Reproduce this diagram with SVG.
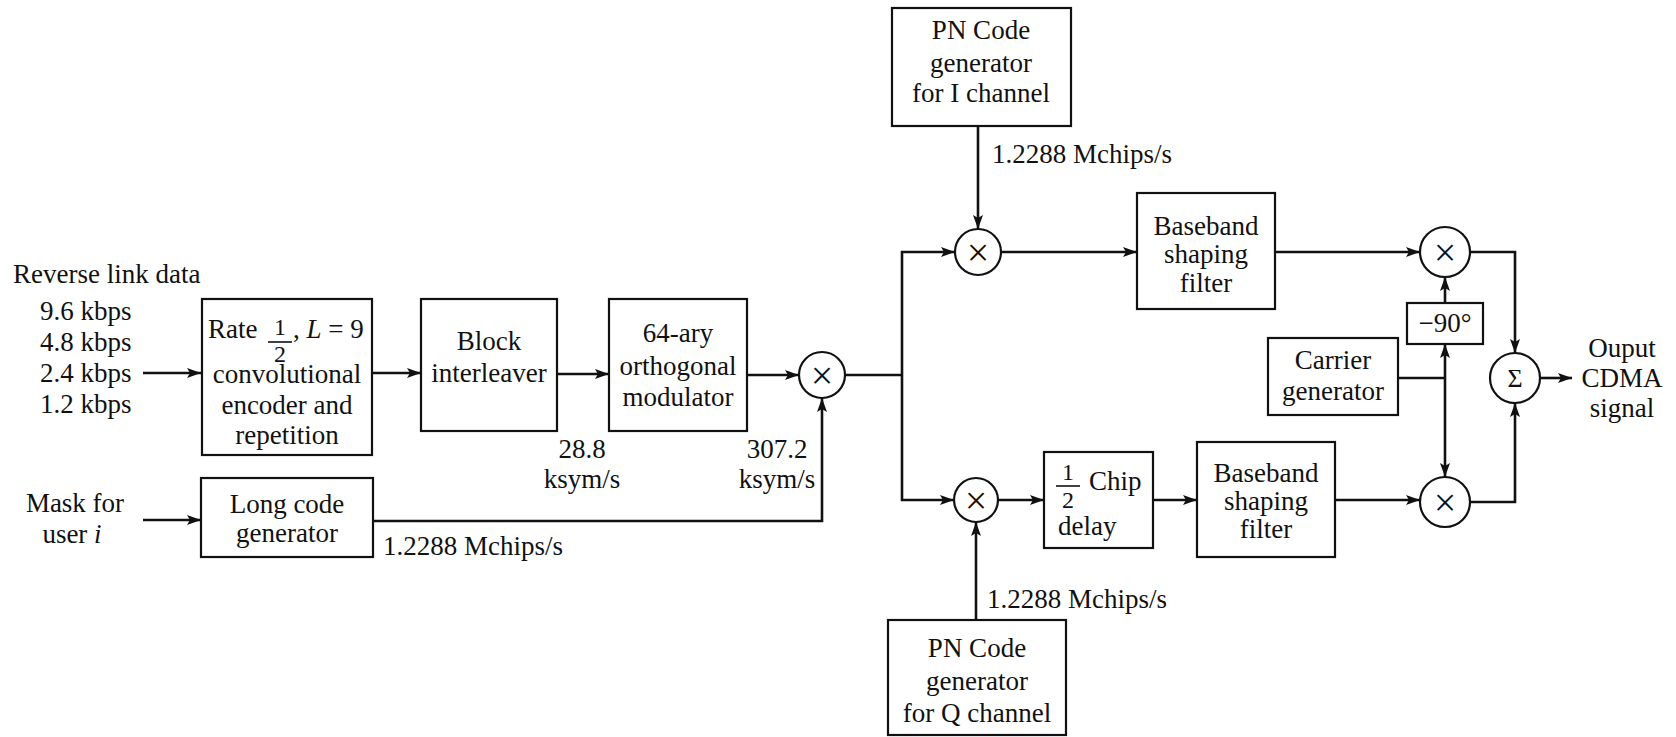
<svg xmlns="http://www.w3.org/2000/svg" width="1676" height="737" viewBox="0 0 1676 737">
<style>
text{font-family:"Liberation Serif","Times New Roman",serif;font-size:27px;fill:#111}
.c{text-anchor:middle}
.f{font-size:24px}
.sym{font-size:40px;dominant-baseline:central;text-anchor:middle}
.box{fill:none;stroke:#111;stroke-width:2.2}
.op{fill:#fff;stroke:#111;stroke-width:2.2}
.ln{fill:none;stroke:#111;stroke-width:2.6}
.ar{marker-end:url(#ah)}
</style>
<defs>
<marker id="ah" markerUnits="userSpaceOnUse" markerWidth="16" markerHeight="12" refX="14" refY="6" orient="auto">
<path d="M0,1 L14,6 L0,11 L3,6 Z" fill="#111"/>
</marker>
</defs>
<rect width="1676" height="737" fill="#fff"/>

<g id="connectors">
<line class="ln ar" x1="143" y1="373" x2="201" y2="373"/>
<line class="ln ar" x1="143" y1="520" x2="201" y2="520"/>
<line class="ln ar" x1="373" y1="373" x2="421" y2="373"/>
<line class="ln ar" x1="557" y1="374" x2="609" y2="374"/>
<line class="ln ar" x1="747" y1="375" x2="799" y2="375"/>
<polyline class="ln ar" points="373,521 822,521 822,398"/>
<polyline class="ln" points="845,375 902,375"/>
<polyline class="ln ar" points="902,375 902,252 955,252"/>
<polyline class="ln ar" points="902,375 902,500 954,500"/>
<line class="ln ar" x1="978" y1="126" x2="978" y2="229"/>
<line class="ln ar" x1="1001" y1="252" x2="1137" y2="252"/>
<line class="ln ar" x1="976" y1="620" x2="976" y2="522"/>
<line class="ln ar" x1="998" y1="500" x2="1044" y2="500"/>
<line class="ln ar" x1="1153" y1="500" x2="1197" y2="500"/>
<line class="ln ar" x1="1275" y1="252" x2="1420" y2="252"/>
<line class="ln ar" x1="1335" y1="500" x2="1420" y2="500"/>
<line class="ln ar" x1="1445" y1="303" x2="1445" y2="277"/>
<line class="ln" x1="1398" y1="378" x2="1445" y2="378"/>
<line class="ln ar" x1="1445" y1="378" x2="1445" y2="344"/>
<line class="ln ar" x1="1445" y1="378" x2="1445" y2="477"/>
<polyline class="ln ar" points="1470,252 1515,252 1515,353"/>
<polyline class="ln ar" points="1470,502 1515,502 1515,403"/>
<line class="ln ar" x1="1540" y1="378" x2="1572" y2="378"/>
</g>

<g id="input-data">
<text x="13" y="283">Reverse link data</text>
<text x="40" y="320">9.6 kbps</text>
<text x="40" y="351">4.8 kbps</text>
<text x="40" y="382">2.4 kbps</text>
<text x="40" y="413">1.2 kbps</text>
</g>

<g id="mask-input">
<text class="c" x="75" y="512">Mask for</text>
<text class="c" x="72" y="543">user <tspan font-style="italic">i</tspan></text>
</g>

<g id="conv-encoder">
<rect class="box" x="202" y="299" width="170" height="156"/>
<text x="208" y="338">Rate<tspan class="f" x="274" y="335">1</tspan><tspan class="f" x="274" y="362">2</tspan><tspan x="293" y="338">, <tspan font-style="italic">L</tspan> = 9</tspan></text>
<line x1="268" y1="342" x2="292" y2="342" stroke="#111" stroke-width="1.6"/>
<text class="c" x="287" y="383">convolutional</text>
<text class="c" x="287" y="414">encoder and</text>
<text class="c" x="287" y="444">repetition</text>
</g>

<g id="block-interleaver">
<rect class="box" x="421" y="299" width="136" height="132"/>
<text class="c" x="489" y="350">Block</text>
<text class="c" x="489" y="382">interleaver</text>
</g>

<g id="orthogonal-modulator">
<rect class="box" x="609" y="299" width="138" height="132"/>
<text class="c" x="678" y="342">64-ary</text>
<text class="c" x="678" y="375">orthogonal</text>
<text class="c" x="678" y="406">modulator</text>
</g>

<g id="rate-labels">
<text class="c" x="582" y="458">28.8</text>
<text class="c" x="582" y="488">ksym/s</text>
<text class="c" x="777" y="458">307.2</text>
<text class="c" x="777" y="488">ksym/s</text>
</g>

<g id="long-code-generator">
<rect class="box" x="201" y="478" width="172" height="79"/>
<text class="c" x="287" y="513">Long code</text>
<text class="c" x="287" y="542">generator</text>
<text x="383" y="555">1.2288 Mchips/s</text>
</g>

<g id="mult-long">
<circle class="op" cx="822" cy="375" r="23"/>
<text class="sym" x="822" y="375">×</text>
</g>

<g id="pn-i">
<rect class="box" x="892" y="8" width="179" height="118"/>
<text class="c" x="981" y="39">PN Code</text>
<text class="c" x="981" y="72">generator</text>
<text class="c" x="981" y="102">for I channel</text>
<text x="992" y="163">1.2288 Mchips/s</text>
</g>

<g id="mult-i">
<circle class="op" cx="978" cy="252" r="23"/>
<text class="sym" x="978" y="252">×</text>
</g>

<g id="pn-q">
<rect class="box" x="888" y="620" width="178" height="115"/>
<text class="c" x="977" y="657">PN Code</text>
<text class="c" x="977" y="690">generator</text>
<text class="c" x="977" y="722">for Q channel</text>
<text x="987" y="608">1.2288 Mchips/s</text>
</g>

<g id="mult-q">
<circle class="op" cx="976" cy="500" r="22"/>
<text class="sym" x="976" y="500">×</text>
</g>

<g id="half-chip-delay">
<rect class="box" x="1044" y="452" width="109" height="96"/>
<text x="1062" y="480"><tspan class="f">1</tspan><tspan class="f" x="1062" y="508">2</tspan><tspan x="1089" y="490">Chip</tspan><tspan x="1058" y="535">delay</tspan></text>
<line x1="1056" y1="486" x2="1080" y2="486" stroke="#111" stroke-width="1.6"/>
</g>

<g id="baseband-i">
<rect class="box" x="1137" y="193" width="138" height="116"/>
<text class="c" x="1206" y="235">Baseband</text>
<text class="c" x="1206" y="263">shaping</text>
<text class="c" x="1206" y="292">filter</text>
</g>

<g id="baseband-q">
<rect class="box" x="1197" y="442" width="138" height="115"/>
<text class="c" x="1266" y="482">Baseband</text>
<text class="c" x="1266" y="510">shaping</text>
<text class="c" x="1266" y="538">filter</text>
</g>

<g id="mult-carrier-i">
<circle class="op" cx="1445" cy="252" r="25"/>
<text class="sym" x="1445" y="252">×</text>
</g>

<g id="phase-shift">
<rect class="box" x="1407" y="303" width="76" height="41"/>
<text class="c" x="1445" y="332">−90°</text>
</g>

<g id="carrier-generator">
<rect class="box" x="1268" y="338" width="130" height="77"/>
<text class="c" x="1333" y="369">Carrier</text>
<text class="c" x="1333" y="400">generator</text>
</g>

<g id="mult-carrier-q">
<circle class="op" cx="1445" cy="502" r="25"/>
<text class="sym" x="1445" y="502">×</text>
</g>

<g id="summer">
<circle class="op" cx="1515" cy="378" r="25"/>
<text class="sym" x="1515" y="378" style="font-size:26px">Σ</text>
</g>

<g id="output">
<text class="c" x="1622" y="357">Ouput</text>
<text class="c" x="1622" y="387">CDMA</text>
<text class="c" x="1622" y="417">signal</text>
</g>
</svg>
